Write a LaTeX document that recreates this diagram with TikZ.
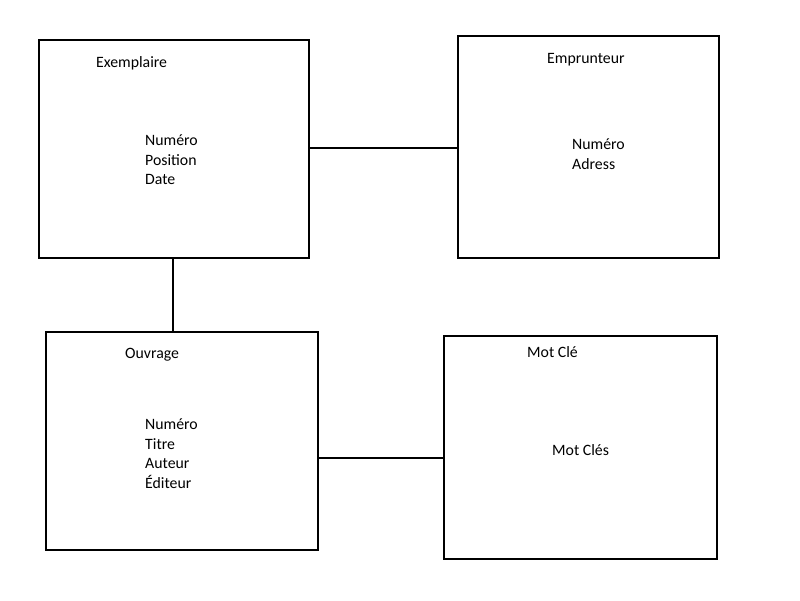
\documentclass[tikz,border=0pt]{standalone}
\usepackage{fontspec}
\setmainfont{Carlito}
\begin{document}
\begin{tikzpicture}[x=1pt,y=-1pt,
  entity/.style={draw=black,line width=2pt,rectangle,anchor=north west,inner sep=0pt},
  label/.style={anchor=base west,inner sep=0pt,font=\fontsize{15.8}{19.5}\selectfont},
  link/.style={draw=black,line width=1.8pt}]
\useasboundingbox[fill=white] (0,0) rectangle (800,600);
% boxes
\node[entity,minimum width=270pt,minimum height=218pt] (ex) at (38,39) {};
\node[entity,minimum width=261pt,minimum height=222pt] (em) at (457,35) {};
\node[entity,minimum width=272pt,minimum height=218pt] (ou) at (45,331) {};
\node[entity,minimum width=273pt,minimum height=223pt] (mc) at (443,335) {};
% titles
\node[label] (exT) at (96,67) {Exemplaire};
\node[label] (emT) at (547,63.5) {Emprunteur};
\node[label] (ouT) at (125,358) {Ouvrage};
\node[label] (mcT) at (527,357.5) {Mot Clé};
% attributes
\node[label] (exA1) at (145,145.5) {Numéro};
\node[label] (exA2) at (145,165) {Position};
\node[label] (exA3) at (145,184.5) {Date};
\node[label] (emA1) at (572,149.5) {Numéro};
\node[label] (emA2) at (572,169) {Adress};
\node[label] (ouA1) at (145,429.5) {Numéro};
\node[label] (ouA2) at (145,449) {Titre};
\node[label] (ouA3) at (145,468.5) {Auteur};
\node[label] (ouA4) at (145,488) {Éditeur};
\node[label] (mcA1) at (552,455.5) {Mot Clés};
% connectors
\coordinate (r1) at (0,148);
\coordinate (r2) at (173,0);
\coordinate (r3) at (0,458);
\draw[link] (ex.east |- r1) -- (em.west |- r1);
\draw[link] (ex.south -| r2) -- (ou.north -| r2);
\draw[link] (ou.east |- r3) -- (mc.west |- r3);
\end{tikzpicture}
\end{document}
